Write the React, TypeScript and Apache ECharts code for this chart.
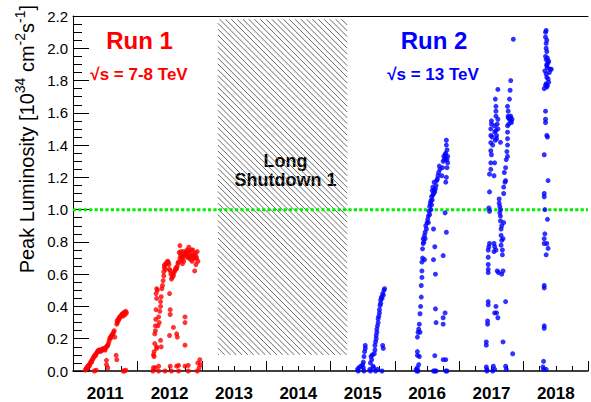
import React, { useEffect, useRef } from "react";
import * as echarts from "echarts";

const FONT = "'Liberation Sans', Arial, Helvetica, sans-serif";

// Axis ranges and tick labels
const xRange = [2011, 2019];
const yRange = [0, 2.2];
const yearLabels = ["2011", "2012", "2013", "2014", "2015", "2016", "2017", "2018"];

// Reference level (green dotted line) and Long Shutdown 1 box [x0, x1, y0, y1]
const referenceLevel = 1.0;
const shutdownBox = [2013.25, 2015.26, 0.1, 2.18];

// Run 1 peak luminosity [date, 10^34 cm^-2 s^-1]
const run1_2011: [number, number][] = [
  [2011.19, 0.005], [2011.2, 0.01], [2011.21, 0.02], [2011.22, 0.015], [2011.23, 0.03], [2011.24, 0.025],
  [2011.25, 0.04], [2011.26, 0.035], [2011.27, 0.05], [2011.28, 0.06], [2011.29, 0.055], [2011.3, 0.07],
  [2011.31, 0.076], [2011.32, 0.085], [2011.33, 0.09], [2011.34, 0.1], [2011.35, 0.095], [2011.36, 0.105],
  [2011.37, 0.115], [2011.38, 0.12], [2011.39, 0.125], [2011.4, 0.13], [2011.41, 0.128], [2011.42, 0.12],
  [2011.43, 0.13], [2011.44, 0.125], [2011.45, 0.135], [2011.46, 0.13], [2011.47, 0.14], [2011.48, 0.135],
  [2011.49, 0.138], [2011.5, 0.13], [2011.51, 0.145], [2011.52, 0.15], [2011.53, 0.155], [2011.54, 0.158],
  [2011.55, 0.17], [2011.56, 0.185], [2011.57, 0.2], [2011.58, 0.21], [2011.59, 0.205], [2011.6, 0.22],
  [2011.61, 0.225], [2011.62, 0.23], [2011.63, 0.24], [2011.64, 0.25], [2011.65, 0.21], [2011.68, 0.29],
  [2011.685, 0.31], [2011.69, 0.3], [2011.7, 0.32], [2011.71, 0.315], [2011.72, 0.334], [2011.73, 0.33],
  [2011.74, 0.34], [2011.75, 0.345], [2011.76, 0.35], [2011.77, 0.355], [2011.78, 0.34], [2011.79, 0.36],
  [2011.8, 0.365], [2011.81, 0.35], [2011.82, 0.37], [2011.83, 0.36],
  [2011.33, 0.0], [2011.36, 0.005], [2011.52, 0.066], [2011.52, 0.04], [2011.54, 0.02], [2011.67, 0.097],
  [2011.68, 0.07], [2011.78, 0.0], [2011.8, 0.0], [2011.82, 0.005],
];

const run1_2012: [number, number][] = [
  [2012.24, 0.0], [2012.25, 0.02], [2012.25, 0.1], [2012.26, 0.12], [2012.27, 0.17], [2012.27, 0.23],
  [2012.28, 0.25], [2012.28, 0.28], [2012.285, 0.32], [2012.29, 0.38], [2012.29, 0.48], [2012.3, 0.51],
  [2012.3, 0.45], [2012.31, 0.5], [2012.32, 0.28], [2012.33, 0.335], [2012.34, 0.3], [2012.35, 0.37],
  [2012.36, 0.43], [2012.36, 0.4], [2012.37, 0.46], [2012.38, 0.51], [2012.39, 0.53], [2012.4, 0.56],
  [2012.41, 0.59], [2012.41, 0.615], [2012.42, 0.64], [2012.42, 0.655], [2012.43, 0.66], [2012.44, 0.63],
  [2012.45, 0.67], [2012.46, 0.665], [2012.47, 0.68], [2012.48, 0.675], [2012.49, 0.66],
  [2012.5, 0.63], [2012.51, 0.62], [2012.52, 0.6], [2012.53, 0.57], [2012.54, 0.58], [2012.55, 0.6],
  [2012.56, 0.59], [2012.57, 0.61], [2012.58, 0.62], [2012.59, 0.63], [2012.6, 0.64], [2012.61, 0.633],
  [2012.62, 0.65], [2012.63, 0.67], [2012.64, 0.675], [2012.65, 0.735], [2012.66, 0.777], [2012.66, 0.7],
  [2012.67, 0.72], [2012.68, 0.69], [2012.69, 0.71], [2012.7, 0.665], [2012.71, 0.7], [2012.72, 0.68],
  [2012.73, 0.72], [2012.74, 0.715], [2012.75, 0.73], [2012.76, 0.735], [2012.77, 0.72], [2012.78, 0.705],
  [2012.79, 0.74], [2012.8, 0.767], [2012.8, 0.7], [2012.81, 0.73], [2012.82, 0.71], [2012.83, 0.69],
  [2012.84, 0.75], [2012.85, 0.72], [2012.86, 0.75], [2012.87, 0.7], [2012.88, 0.72], [2012.89, 0.7],
  [2012.9, 0.73], [2012.91, 0.71], [2012.92, 0.7], [2012.93, 0.74], [2012.94, 0.68], [2012.89, 0.62],
  [2012.91, 0.66], [2012.85, 0.68], [2012.77, 0.75], [2012.72, 0.74], [2012.68, 0.74],
  [2012.26, 0.09], [2012.28, 0.02], [2012.3, 0.15], [2012.3, 0.14], [2012.36, 0.19], [2012.37, 0.15],
  [2012.5, 0.48], [2012.51, 0.38], [2012.51, 0.35], [2012.5, 0.22], [2012.56, 0.27], [2012.61, 0.23],
  [2012.62, 0.21], [2012.74, 0.335], [2012.74, 0.3], [2012.74, 0.16], [2012.33, 0.0], [2012.33, 0.03],
  [2012.43, 0.0], [2012.51, 0.03], [2012.53, 0.0], [2012.61, 0.03], [2012.64, 0.0], [2012.64, 0.035],
  [2012.74, 0.03], [2012.79, 0.0], [2012.79, 0.035], [2012.93, 0.0], [2012.94, 0.05], [2012.96, 0.02],
  [2012.97, 0.07], [2012.98, 0.04],
];

// Run 2 peak luminosity [date, 10^34 cm^-2 s^-1]
const run2_2015: [number, number][] = [
  [2015.42, 0.01], [2015.43, 0.0], [2015.44, 0.02], [2015.47, 0.03], [2015.5, 0.04], [2015.51, 0.055],
  [2015.51, 0.02], [2015.52, 0.09], [2015.53, 0.12], [2015.54, 0.14], [2015.54, 0.158], [2015.52, 0.0],
  [2015.61, 0.01], [2015.62, 0.0], [2015.62, 0.05], [2015.63, 0.09], [2015.64, 0.07], [2015.65, 0.1],
  [2015.66, 0.03], [2015.67, 0.02], [2015.68, 0.107], [2015.69, 0.158], [2015.69, 0.13], [2015.7, 0.18],
  [2015.71, 0.2], [2015.71, 0.22], [2015.72, 0.24], [2015.72, 0.26], [2015.73, 0.28], [2015.74, 0.3],
  [2015.74, 0.324], [2015.75, 0.34], [2015.76, 0.36], [2015.76, 0.38], [2015.77, 0.406], [2015.78, 0.42],
  [2015.78, 0.44], [2015.79, 0.458], [2015.8, 0.45], [2015.81, 0.48], [2015.82, 0.47], [2015.83, 0.5],
  [2015.84, 0.51], [2015.81, 0.158], [2015.82, 0.14], [2015.8, 0.0], [2015.7, 0.0], [2015.73, 0.01],
];

const run2_2016: [number, number][] = [
  [2016.33, 0.01], [2016.34, 0.0], [2016.35, 0.02], [2016.36, 0.0], [2016.35, 0.097], [2016.35, 0.12],
  [2016.35, 0.21], [2016.36, 0.24], [2016.37, 0.26], [2016.38, 0.29], [2016.39, 0.355], [2016.39, 0.24],
  [2016.4, 0.4], [2016.41, 0.458], [2016.41, 0.53], [2016.42, 0.58], [2016.42, 0.62], [2016.42, 0.675],
  [2016.43, 0.7], [2016.43, 0.757], [2016.44, 0.79], [2016.44, 0.82], [2016.45, 0.8], [2016.46, 0.84],
  [2016.46, 0.69], [2016.47, 0.86], [2016.47, 0.82], [2016.48, 0.9], [2016.49, 0.88], [2016.5, 0.92],
  [2016.51, 0.94], [2016.52, 0.96], [2016.52, 0.92], [2016.53, 0.99], [2016.54, 1.02], [2016.54, 0.97],
  [2016.55, 1.04], [2016.56, 1.055], [2016.56, 1.0], [2016.57, 1.08], [2016.57, 1.03], [2016.58, 1.118],
  [2016.58, 1.06], [2016.59, 1.14], [2016.59, 1.09], [2016.6, 1.1], [2016.61, 1.17], [2016.61, 1.12],
  [2016.62, 1.11], [2016.63, 1.13], [2016.64, 1.15], [2016.65, 1.18], [2016.66, 1.19], [2016.67, 1.21],
  [2016.68, 1.23], [2016.69, 1.27], [2016.7, 1.25], [2016.73, 1.21], [2016.74, 1.26], [2016.75, 1.3],
  [2016.76, 1.33], [2016.77, 1.31], [2016.78, 1.34], [2016.79, 1.35], [2016.79, 1.32], [2016.8, 1.4],
  [2016.8, 1.43], [2016.81, 1.37], [2016.81, 1.31], [2016.82, 1.29], [2016.82, 1.33], [2016.79, 1.17],
  [2016.81, 1.26], [2016.8, 1.2],
  [2016.78, 0.98], [2016.8, 0.86], [2016.75, 0.715], [2016.62, 0.77], [2016.6, 0.88], [2016.6, 0.69],
  [2016.63, 0.6], [2016.63, 0.385], [2016.64, 0.3], [2016.62, 0.095], [2016.75, 0.29], [2016.75, 0.33],
  [2016.78, 0.36], [2016.75, 0.07], [2016.79, 0.07], [2016.6, 0.0], [2016.62, 0.0], [2016.64, 0.0],
  [2016.79, 0.0], [2016.81, 0.0], [2016.38, 0.09], [2016.37, 0.04],
];

const run2_2017: [number, number][] = [
  [2017.42, 0.025], [2017.43, 0.01], [2017.43, 0.0], [2017.42, 0.18], [2017.42, 0.16], [2017.44, 0.31],
  [2017.44, 0.29], [2017.45, 0.43], [2017.45, 0.41], [2017.45, 0.61], [2017.45, 0.63], [2017.45, 0.66],
  [2017.45, 0.705], [2017.45, 0.75], [2017.47, 0.79], [2017.46, 0.77], [2017.47, 0.99], [2017.46, 1.01],
  [2017.47, 1.11], [2017.47, 1.22], [2017.49, 1.25], [2017.49, 1.29], [2017.49, 1.365], [2017.5, 1.34],
  [2017.49, 1.415], [2017.49, 1.46], [2017.49, 1.5], [2017.5, 1.53], [2017.5, 1.55], [2017.51, 1.45],
  [2017.52, 1.4], [2017.54, 1.21], [2017.55, 1.29], [2017.55, 1.48], [2017.55, 1.52], [2017.56, 1.685],
  [2017.57, 1.64], [2017.57, 1.61], [2017.57, 1.58], [2017.6, 1.745], [2017.6, 1.56], [2017.6, 1.5],
  [2017.58, 1.46], [2017.58, 1.44], [2017.56, 1.43], [2017.57, 1.49], [2017.59, 1.53], [2017.64, 1.417],
  [2017.54, 0.79], [2017.55, 0.77], [2017.54, 0.74], [2017.57, 0.75], [2017.62, 1.066], [2017.62, 1.04],
  [2017.64, 1.0], [2017.64, 0.96], [2017.64, 0.93], [2017.65, 0.88], [2017.65, 0.84], [2017.65, 0.78],
  [2017.67, 0.75], [2017.67, 0.72], [2017.68, 0.82], [2017.69, 0.92], [2017.69, 1.1], [2017.69, 1.14],
  [2017.71, 1.17], [2017.7, 1.23], [2017.72, 1.18], [2017.63, 0.98], [2017.66, 0.9], [2017.63, 1.02],
  [2017.66, 0.81],
  [2017.59, 0.62], [2017.61, 0.61], [2017.66, 0.6], [2017.68, 0.62], [2017.72, 0.43], [2017.57, 0.4],
  [2017.55, 0.36], [2017.58, 0.36], [2017.6, 0.33], [2017.68, 0.18], [2017.83, 0.107], [2017.53, 0.03],
  [2017.55, 0.01], [2017.72, 0.03], [2017.73, 0.01], [2017.52, 0.0],
  [2017.75, 1.4], [2017.75, 1.44], [2017.75, 1.48], [2017.75, 1.52], [2017.76, 1.57], [2017.76, 1.58],
  [2017.78, 1.56], [2017.8, 1.55], [2017.81, 1.54], [2017.77, 1.53], [2017.79, 1.57], [2017.8, 1.58],
  [2017.82, 1.56], [2017.76, 1.61], [2017.75, 1.64], [2017.78, 1.685], [2017.79, 1.74], [2017.8, 1.8],
  [2017.84, 2.056], [2017.75, 1.33], [2017.74, 1.36], [2017.73, 1.31], [2017.72, 1.26],
];

const run2_2018: [number, number][] = [
  [2018.3, 0.025], [2018.31, 0.06], [2018.31, 0.01], [2018.35, 0.01], [2018.32, 0.28], [2018.32, 0.265],
  [2018.32, 0.53], [2018.32, 0.515], [2018.32, 0.79], [2018.32, 0.82], [2018.33, 0.85], [2018.36, 0.79],
  [2018.38, 0.76], [2018.35, 0.72], [2018.37, 0.94], [2018.33, 1.0], [2018.32, 1.1], [2018.32, 1.08],
  [2018.38, 1.18], [2018.32, 1.34], [2018.36, 1.46], [2018.37, 1.45], [2018.34, 1.54], [2018.34, 1.56],
  [2018.34, 1.61], [2018.32, 1.75], [2018.34, 1.77], [2018.35, 1.78], [2018.36, 1.76], [2018.37, 1.77],
  [2018.38, 1.81], [2018.36, 1.82], [2018.41, 1.87], [2018.43, 1.87], [2018.36, 1.89], [2018.38, 1.91],
  [2018.35, 1.93], [2018.37, 1.94], [2018.39, 1.92], [2018.34, 1.95], [2018.36, 1.98], [2018.35, 2.03],
  [2018.34, 2.07], [2018.34, 2.1], [2018.35, 2.11], [2018.36, 1.9], [2018.4, 1.85], [2018.33, 1.86],
  [2018.35, 1.84], [2018.39, 1.79], [2018.37, 1.88], [2018.35, 2.0], [2018.36, 2.05],
];

const RED = "#ff0000";
const BLUE = "#0000ff";

export default function App() {
  const ref = useRef<HTMLDivElement>(null);

  useEffect(() => {
    const chart = echarts.init(ref.current!, undefined, { renderer: "svg" });
    const scatter = (data: [number, number][], color: string) => ({
      type: "scatter",
      data,
      symbol: "circle",
      symbolSize: 5,
      itemStyle: { color },
      z: 5,
      silent: true,
    });

    const option: any = {
      animation: false,
      grid: { left: 73, top: 16, width: 523.4, height: 356.3 },
      xAxis: [
        {
          type: "value",
          min: xRange[0],
          max: xRange[1],
          interval: 0.5,
          position: "bottom",
          axisLine: { show: true, lineStyle: { color: "#000", width: 1.5 } },
          axisTick: { show: false },
          splitLine: { show: false },
          axisLabel: {
            show: true,
            margin: 14,
            fontFamily: FONT,
            fontWeight: "bold",
            fontSize: 17,
            color: "#000",
            formatter: (v: number) => {
              const idx = Math.round(v - 0.5 - xRange[0]);
              return Math.abs(v - Math.floor(v) - 0.5) < 1e-6 && idx >= 0 && idx < yearLabels.length
                ? yearLabels[idx]
                : "";
            },
          },
        },
        {
          type: "value",
          min: xRange[0],
          max: xRange[1],
          interval: 1,
          position: "bottom",
          axisLine: { show: false },
          axisTick: { show: true, inside: true, length: 10, lineStyle: { color: "#000", width: 1 } },
          minorTick: { show: true, splitNumber: 4, length: 5, lineStyle: { color: "#000", width: 1 } },
          axisLabel: { show: false },
          splitLine: { show: false },
        },
        {
          type: "value",
          min: xRange[0],
          max: xRange[1],
          position: "top",
          axisLine: { show: true, lineStyle: { color: "#000", width: 1 } },
          axisTick: { show: false },
          axisLabel: { show: false },
          splitLine: { show: false },
        },
      ],
      yAxis: {
        type: "value",
        min: yRange[0],
        max: yRange[1],
        interval: 0.2,
        axisLine: { show: true, lineStyle: { color: "#000", width: 1 } },
        axisTick: { show: true, inside: true, length: 16, lineStyle: { color: "#000" } },
        minorTick: { show: true, splitNumber: 4, length: 9, lineStyle: { color: "#000" } },
        splitLine: { show: false },
        axisLabel: {
          margin: 5,
          fontFamily: FONT,
          fontSize: 15,
          color: "#000",
          formatter: (v: number) => v.toFixed(1),
        },
      },
      series: [
        {
          type: "custom",
          data: [shutdownBox],
          encode: { x: [0, 1], y: [2, 3] },
          silent: true,
          z: 1,
          renderItem: (params: any, api: any) => {
            const p0 = api.coord([api.value(0), api.value(3)]);
            const p1 = api.coord([api.value(1), api.value(2)]);
            const L = p0[0], T = p0[1], R = p1[0], B = p1[1];
            const step = 5.8;
            const children: any[] = [];
            for (let c = T - R; c <= B - L; c += step) {
              const xs = Math.max(L, T - c);
              const xe = Math.min(R, B - c);
              if (xe <= xs) continue;
              children.push({
                type: "line",
                shape: { x1: xs, y1: xs + c, x2: xe, y2: xe + c },
                style: { stroke: "#6a6a6a", lineWidth: 1 },
              });
            }
            return { type: "group", children };
          },
        },
        {
          type: "line",
          data: [[xRange[0], referenceLevel], [xRange[1], referenceLevel]],
          symbol: "none",
          silent: true,
          z: 3,
          lineStyle: { color: "#00ee00", width: 3, type: [3.2, 2.2] },
        },
        scatter(run1_2011, RED),
        scatter(run1_2012, RED),
        scatter(run2_2015, BLUE),
        scatter(run2_2016, BLUE),
        scatter(run2_2017, BLUE),
        scatter(run2_2018, BLUE),
      ],
      graphic: [
        {
          type: "text",
          x: 37,
          y: 5,
          rotation: Math.PI / 2,
          style: {
            text: "{a|Peak Luminosity [10}{s|34}{a| cm}{s|-2}{a|s}{s|-1}{a|]}",
            align: "right",
            verticalAlign: "bottom",
            fill: "#000",
            rich: {
              a: { fontFamily: FONT, fontSize: 20, lineHeight: 24, verticalAlign: "bottom", fill: "#000" },
              s: { fontFamily: FONT, fontSize: 14, lineHeight: 24, verticalAlign: "top", fill: "#000" },
            },
          },
        },
        {
          type: "text",
          style: { text: "Run 1", x: 139.5, y: 40.5, align: "center", verticalAlign: "middle", fill: RED, fontFamily: FONT, fontWeight: "bold", fontSize: 24 },
        },
        {
          type: "text",
          style: { text: "√s = 7-8 TeV", x: 139, y: 74, align: "center", verticalAlign: "middle", fill: RED, fontFamily: FONT, fontWeight: "bold", fontSize: 17 },
        },
        {
          type: "text",
          style: { text: "Run 2", x: 434, y: 40.3, align: "center", verticalAlign: "middle", fill: BLUE, fontFamily: FONT, fontWeight: "bold", fontSize: 24 },
        },
        {
          type: "text",
          style: { text: "√s = 13 TeV", x: 433, y: 74, align: "center", verticalAlign: "middle", fill: BLUE, fontFamily: FONT, fontWeight: "bold", fontSize: 17 },
        },
        {
          type: "text",
          style: {
            text: "Long\nShutdown 1",
            x: 285.5,
            y: 170,
            align: "center",
            verticalAlign: "middle",
            lineHeight: 19,
            fill: "#000",
            fontFamily: FONT,
            fontWeight: "bold",
            fontSize: 18,
          },
        },
      ],
    };

    chart.setOption(option);
    return () => chart.dispose();
  }, []);

  return (
    <div
      ref={ref}
      style={{ position: "absolute", left: 0, top: 0, width: 591, height: 402, background: "#fff", overflow: "hidden" }}
    />
  );
}
